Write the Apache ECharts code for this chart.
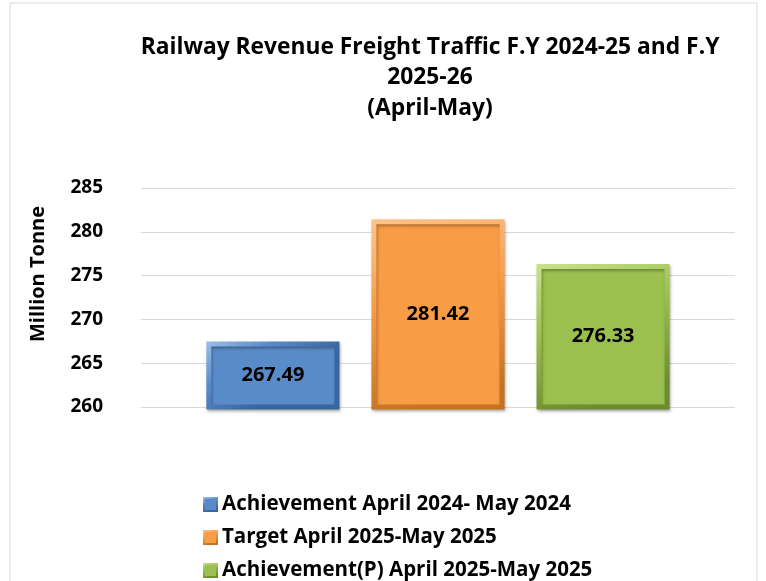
<!DOCTYPE html>
<html>
<head>
<meta charset="utf-8">
<script src="https://cdn.jsdelivr.net/npm/echarts@6/dist/echarts.min.js"></script>
<style>
  html, body { margin: 0; padding: 0; background: #fff; }
  #chart { width: 766px; height: 581px; }
</style>
</head>
<body>
<div id="chart"></div>
<script>
// chart data
const seriesNames = [
  'Achievement April 2024- May 2024',
  'Target April 2025-May 2025',
  'Achievement(P) April 2025-May 2025'
]
const seriesValues = [267.49, 281.42, 276.33]
const category = ['April-May']
const yTicks = { min: 260, max: 285, interval: 5 }
const yTitle = 'Million Tonne'

// colours per series: [light edge, main, dark edge]
const palette = [
  ['#9dbfe8', '#5a8bc9', '#3a659e'],
  ['#fdc58c', '#f89c45', '#c47320'],
  ['#c6e38e', '#9bc04f', '#6c8c30']
]

const FONT = 'Open Sans'

const chart = echarts.init(document.getElementById('chart'))

// bevelled bar look: flat fill + diagonal gradient border
const makeSeries = (name, i) => ({
  name: name,
  type: 'bar',
  data: [seriesValues[i]],
  barGap: '24%',
  barCategoryGap: '22%',
  itemStyle: {
    color: palette[i][1],
    borderColor: new echarts.graphic.LinearGradient(0, 0, 0.35, 1, [
      { offset: 0, color: palette[i][0] },
      { offset: 0.45, color: palette[i][1] },
      { offset: 1, color: palette[i][2] }
    ]),
    borderWidth: 5,
    shadowColor: 'rgba(0,0,0,0.3)',
    shadowBlur: 3,
    shadowOffsetX: 1,
    shadowOffsetY: 2
  },
  label: {
    show: true,
    position: 'inside',
    color: '#000',
    fontFamily: FONT,
    fontWeight: 'bold',
    fontSize: 20,
    formatter: (p) => p.value.toFixed(2)
  }
})

const option = {
  backgroundColor: '#fff',
  animation: false,
  title: {
    text: 'Railway Revenue Freight Traffic F.Y 2024-25 and F.Y\n2025-26\n(April-May)',
    left: 425,
    top: 27,
    textAlign: 'center',
    textStyle: {
      fontFamily: FONT,
      fontWeight: 'bold',
      fontSize: 22.8,
      lineHeight: 30.5,
      color: '#000'
    }
  },
  graphic: [
    {
      type: 'rect',
      shape: { x: 10, y: 3, width: 747, height: 640 },
      style: { fill: 'none', stroke: '#d9d9d9', lineWidth: 1 },
      silent: true
    },
    {
      // axis title sits a bit above the plot's middle, as in the original
      type: 'text',
      x: 38,
      y: 274,
      rotation: Math.PI / 2,
      style: {
        text: yTitle,
        align: 'center',
        verticalAlign: 'middle',
        fontFamily: FONT,
        fontWeight: 'bold',
        fontSize: 20,
        fill: '#000'
      },
      silent: true
    }
  ],
  legend: {
    orient: 'vertical',
    left: 198,
    top: 489,
    height: 150,
    itemWidth: 13,
    itemHeight: 13,
    itemGap: 12,
    icon: 'rect',
    textStyle: {
      fontFamily: FONT,
      fontWeight: 'bold',
      fontSize: 20.5,
      lineHeight: 20,
      color: '#000'
    },
    data: seriesNames
  },
  grid: { left: 141, right: 31, top: 188, bottom: 174 },
  xAxis: {
    type: 'category',
    data: category,
    axisLine: { show: false },
    axisTick: { show: false },
    axisLabel: { show: false }
  },
  yAxis: {
    type: 'value',
    min: yTicks.min,
    max: yTicks.max,
    interval: yTicks.interval,
    axisLabel: {
      margin: 38,
      fontFamily: FONT,
      fontWeight: 'bold',
      fontSize: 19,
      color: '#000'
    },
    splitLine: { lineStyle: { color: '#d9d9d9', width: 1 } }
  },
  series: seriesNames.map(makeSeries)
}

chart.setOption(option)
</script>
</body>
</html>
